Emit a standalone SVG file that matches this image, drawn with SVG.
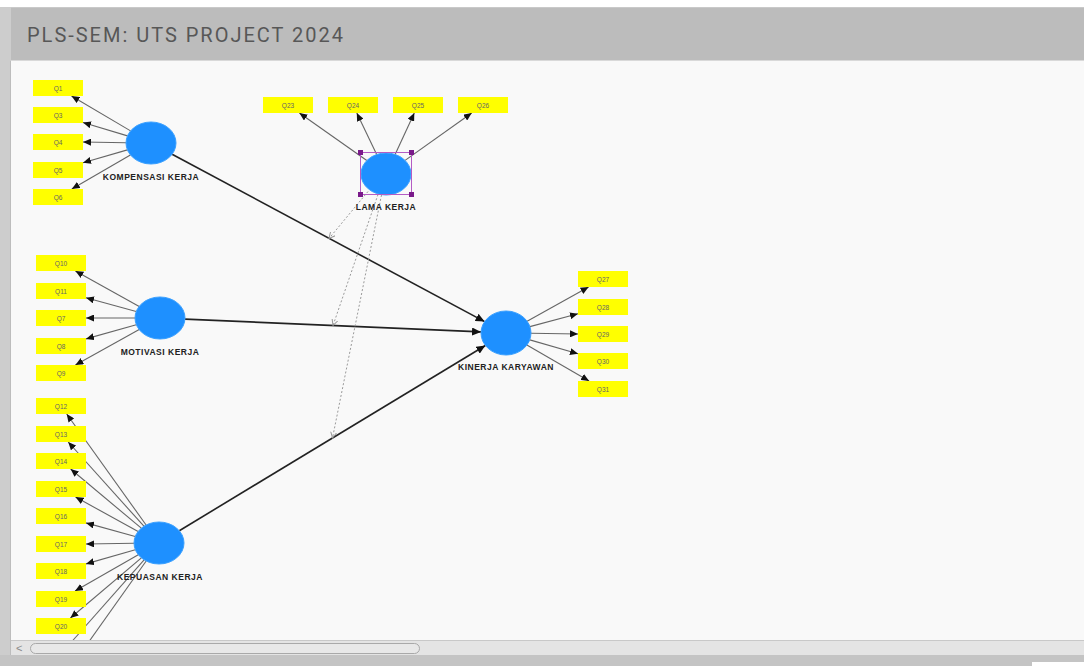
<svg xmlns="http://www.w3.org/2000/svg" width="1084" height="666" viewBox="0 0 1084 666">
<style>
.ind rect{fill:#ffff00}
.ind text{font-family:"Liberation Sans",Arial,sans-serif;font-size:6.5px;fill:#666;text-anchor:middle}
.lv ellipse{fill:#1e90ff;stroke:#3aa0ff;stroke-width:1}
.lv text{font-family:"Liberation Sans",Arial,sans-serif;font-size:8.5px;font-weight:bold;fill:#222;text-anchor:middle;letter-spacing:0.5px}
.ol{stroke:#666;stroke-width:1.1;fill:none;marker-end:url(#ah)}
.sp{stroke:#222;stroke-width:1.6;fill:none;marker-end:url(#ahb)}
.md{stroke:#9a9a9a;stroke-width:1;fill:none;stroke-dasharray:2 2;marker-end:url(#am)}
</style>
<defs>
<marker id="ah" markerUnits="userSpaceOnUse" markerWidth="8" markerHeight="7" refX="8" refY="3.5" orient="auto"><path d="M0,0 L8,3.5 L0,7 z" fill="#111"/></marker>
<marker id="ahb" markerUnits="userSpaceOnUse" markerWidth="9" markerHeight="8" refX="9" refY="4" orient="auto"><path d="M0,0 L9,4 L0,8 z" fill="#111"/></marker>
<marker id="am" markerUnits="userSpaceOnUse" markerWidth="7" markerHeight="7" refX="6" refY="3.5" orient="auto"><path d="M0,0.5 L6,3.5 L0,6.5" fill="none" stroke="#999" stroke-width="1"/></marker>
</defs>
<rect x="0" y="0" width="1084" height="666" fill="#ffffff"/>
<rect x="0" y="61" width="1084" height="580" fill="#f9f9f9"/>
<!-- header -->
<rect x="0" y="7" width="1084" height="54" fill="#bcbcbc"/>
<line x1="0" y1="7.5" x2="1084" y2="7.5" stroke="#c9c9c9"/>
<line x1="0" y1="60.5" x2="1084" y2="60.5" stroke="#d9d9d9"/>
<text x="27" y="42" font-family="Roboto,'Liberation Sans',sans-serif" font-size="20" fill="#575757" textLength="316" lengthAdjust="spacing">PLS-SEM: UTS PROJECT 2024</text>
<!-- left frame -->
<rect x="0" y="7" width="11" height="659" fill="#cdcdcd"/>
<line x1="10.5" y1="61" x2="10.5" y2="655" stroke="#bdbdbd"/>

<g id="connectors">
<!-- Kompensasi -->
<line class="ol" x1="130.6" y1="130.9" x2="71.5" y2="96"/>
<line class="ol" x1="127.5" y1="135.9" x2="83" y2="122.5"/>
<line class="ol" x1="126" y1="142.7" x2="83" y2="142"/>
<line class="ol" x1="127.4" y1="149.9" x2="83" y2="162.7"/>
<line class="ol" x1="130.4" y1="154.9" x2="71.8" y2="189"/>
<!-- Lama kerja -->
<line class="ol" x1="366.8" y1="160.5" x2="299.4" y2="113"/>
<line class="ol" x1="376.7" y1="154.5" x2="356.8" y2="113"/>
<line class="ol" x1="395.1" y1="154.4" x2="414.3" y2="113"/>
<line class="ol" x1="405.1" y1="160.4" x2="471.7" y2="113"/>
<!-- Motivasi -->
<line class="ol" x1="139.2" y1="306.4" x2="75.4" y2="271"/>
<line class="ol" x1="136.2" y1="311.5" x2="86" y2="297.8"/>
<line class="ol" x1="135" y1="318" x2="86" y2="318"/>
<line class="ol" x1="136.3" y1="324.7" x2="86" y2="338.9"/>
<line class="ol" x1="139.2" y1="329.6" x2="75.4" y2="365"/>
<!-- Kinerja -->
<line class="ol" x1="527.1" y1="321.2" x2="588.6" y2="287"/>
<line class="ol" x1="529.9" y1="326.6" x2="578" y2="313.7"/>
<line class="ol" x1="531" y1="333.2" x2="578" y2="334"/>
<line class="ol" x1="529.8" y1="339.9" x2="578" y2="353.8"/>
<line class="ol" x1="526.9" y1="345.1" x2="589.1" y2="381"/>
<!-- Kepuasan -->
<line class="ol" x1="146.1" y1="525" x2="66.7" y2="414"/>
<line class="ol" x1="143.9" y1="526.2" x2="68.2" y2="442"/>
<line class="ol" x1="141.3" y1="528.2" x2="70.6" y2="469"/>
<line class="ol" x1="138.1" y1="531.5" x2="75.5" y2="497"/>
<line class="ol" x1="135.2" y1="536.5" x2="86" y2="522.9"/>
<line class="ol" x1="134" y1="543.3" x2="86" y2="544"/>
<line class="ol" x1="135.3" y1="549.8" x2="86" y2="563.9"/>
<line class="ol" x1="138.3" y1="554.8" x2="75" y2="591"/>
<line class="ol" x1="141.4" y1="557.9" x2="70.4" y2="618"/>
<line class="ol" x1="144.1" y1="559.9" x2="63.5" y2="651"/>
<line class="ol" x1="146.2" y1="561" x2="66.7" y2="673"/>
<!-- structural -->
<line class="sp" x1="172.1" y1="154.3" x2="484.6" y2="321.6"/>
<line class="sp" x1="185" y1="319.1" x2="481" y2="331.9"/>
<line class="sp" x1="179.3" y1="530.7" x2="485.4" y2="345.5"/>
<!-- moderating -->
<line class="md" x1="368" y1="191.5" x2="329" y2="238.5"/>
<line class="md" x1="378" y1="194.5" x2="333" y2="325.5" stroke="#8fa08a"/>
<line class="md" x1="381.5" y1="195" x2="332.5" y2="438"/>
</g>

<g id="kompensasi-kerja" class="lv"><ellipse cx="151" cy="143" rx="25" ry="21"/><text x="151" y="180">KOMPENSASI KERJA</text></g>
<g id="lama-kerja" class="lv"><ellipse cx="386" cy="174" rx="25" ry="21"/><text x="386" y="210">LAMA KERJA</text>
<rect x="360.5" y="152.5" width="51" height="42" fill="none" stroke="#b45cc4" stroke-width="1"/>
<g fill="#7a1a8a"><rect x="358" y="150" width="5" height="5"/><rect x="409" y="150" width="5" height="5"/><rect x="358" y="192" width="5" height="5"/><rect x="409" y="192" width="5" height="5"/></g></g>
<g id="motivasi-kerja" class="lv"><ellipse cx="160" cy="318" rx="25" ry="21"/><text x="160" y="355">MOTIVASI KERJA</text></g>
<g id="kinerja-karyawan" class="lv"><ellipse cx="506" cy="333" rx="25" ry="22"/><text x="506" y="370">KINERJA KARYAWAN</text></g>
<g id="kepuasan-kerja" class="lv"><ellipse cx="159" cy="543" rx="25" ry="21"/><text x="160" y="580">KEPUASAN KERJA</text></g>

<g id="Q1" class="ind"><rect x="33" y="80" width="50" height="16"/><text x="58" y="90.5">Q1</text></g>
<g id="Q3" class="ind"><rect x="33" y="107" width="50" height="16"/><text x="58" y="117.5">Q3</text></g>
<g id="Q4" class="ind"><rect x="33" y="134" width="50" height="16"/><text x="58" y="144.5">Q4</text></g>
<g id="Q5" class="ind"><rect x="33" y="162" width="50" height="16"/><text x="58" y="172.5">Q5</text></g>
<g id="Q6" class="ind"><rect x="33" y="189" width="50" height="16"/><text x="58" y="199.5">Q6</text></g>

<g id="Q23" class="ind"><rect x="263" y="97" width="50" height="16"/><text x="288" y="107.5">Q23</text></g>
<g id="Q24" class="ind"><rect x="328" y="97" width="50" height="16"/><text x="353" y="107.5">Q24</text></g>
<g id="Q25" class="ind"><rect x="393" y="97" width="50" height="16"/><text x="418" y="107.5">Q25</text></g>
<g id="Q26" class="ind"><rect x="458" y="97" width="50" height="16"/><text x="483" y="107.5">Q26</text></g>

<g id="Q10" class="ind"><rect x="36" y="255" width="50" height="16"/><text x="61" y="265.5">Q10</text></g>
<g id="Q11" class="ind"><rect x="36" y="283" width="50" height="16"/><text x="61" y="293.5">Q11</text></g>
<g id="Q7" class="ind"><rect x="36" y="310" width="50" height="16"/><text x="61" y="320.5">Q7</text></g>
<g id="Q8" class="ind"><rect x="36" y="338" width="50" height="16"/><text x="61" y="348.5">Q8</text></g>
<g id="Q9" class="ind"><rect x="36" y="365" width="50" height="16"/><text x="61" y="375.5">Q9</text></g>

<g id="Q27" class="ind"><rect x="578" y="271" width="50" height="16"/><text x="603" y="281.5">Q27</text></g>
<g id="Q28" class="ind"><rect x="578" y="299" width="50" height="16"/><text x="603" y="309.5">Q28</text></g>
<g id="Q29" class="ind"><rect x="578" y="326" width="50" height="16"/><text x="603" y="336.5">Q29</text></g>
<g id="Q30" class="ind"><rect x="578" y="353" width="50" height="16"/><text x="603" y="363.5">Q30</text></g>
<g id="Q31" class="ind"><rect x="578" y="381" width="50" height="16"/><text x="603" y="391.5">Q31</text></g>

<g id="Q12" class="ind"><rect x="36" y="398" width="50" height="16"/><text x="61" y="408.5">Q12</text></g>
<g id="Q13" class="ind"><rect x="36" y="426" width="50" height="16"/><text x="61" y="436.5">Q13</text></g>
<g id="Q14" class="ind"><rect x="36" y="453" width="50" height="16"/><text x="61" y="463.5">Q14</text></g>
<g id="Q15" class="ind"><rect x="36" y="481" width="50" height="16"/><text x="61" y="491.5">Q15</text></g>
<g id="Q16" class="ind"><rect x="36" y="508" width="50" height="16"/><text x="61" y="518.5">Q16</text></g>
<g id="Q17" class="ind"><rect x="36" y="536" width="50" height="16"/><text x="61" y="546.5">Q17</text></g>
<g id="Q18" class="ind"><rect x="36" y="563" width="50" height="16"/><text x="61" y="573.5">Q18</text></g>
<g id="Q19" class="ind"><rect x="36" y="591" width="50" height="16"/><text x="61" y="601.5">Q19</text></g>
<g id="Q20" class="ind"><rect x="36" y="618" width="50" height="16"/><text x="61" y="628.5">Q20</text></g>

<!-- scrollbar and bottom frame -->
<rect x="11" y="640" width="1073" height="15" fill="#e4e4e4"/>
<line x1="11" y1="640.5" x2="1084" y2="640.5" stroke="#c8c8c8"/>
<rect x="30.5" y="643.5" width="389" height="10" rx="5" fill="#e8e8e8" stroke="#a9a9a9"/>
<text x="16" y="652" font-family="'Liberation Sans',sans-serif" font-size="11" fill="#8a8a8a">&lt;</text>
<rect x="0" y="655" width="1084" height="11" fill="#c4c4c4"/>
<rect x="1032" y="662" width="52" height="4" fill="#ffffff"/>
</svg>
